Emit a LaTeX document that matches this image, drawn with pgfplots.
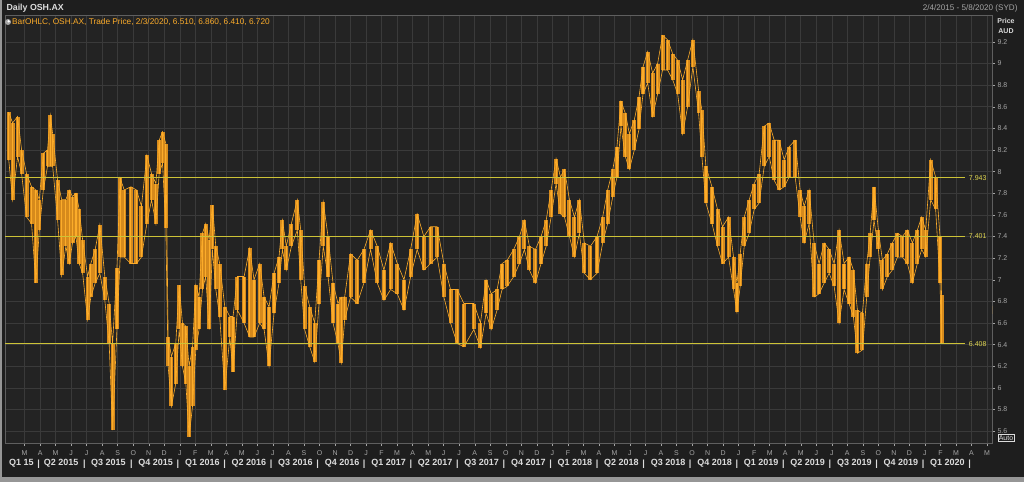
\documentclass[border=0pt]{standalone}
\usepackage{fontspec}
\setmainfont{Liberation Sans}
\usepackage{pgfplots}
\pgfplotsset{compat=1.18}
\usepackage{pgfplotstable}

\definecolor{framegray}{RGB}{150,150,150}
\definecolor{panel}{RGB}{30,30,30}
\definecolor{plotbg}{RGB}{35,35,35}
\definecolor{gridc}{RGB}{58,58,58}
\definecolor{axisc}{RGB}{95,95,95}
\definecolor{barorange}{RGB}{252,172,42}
\definecolor{bandorange}{RGB}{214,138,28}
\definecolor{lvl}{RGB}{205,195,55}
\definecolor{lvltext}{RGB}{225,215,80}
\definecolor{ticktext}{RGB}{165,165,165}
\definecolor{qtext}{RGB}{220,220,220}

% month index: 0 = Jan 2015, 12 = Jan 2016 ...; hi / lo of each bar group
\pgfplotstableread{
m hi lo
0.98 8.55 8.11
1.23 8.45 7.74
1.55 8.51 8.14
1.81 8.20 7.98
2.13 7.98 7.58
2.45 7.86 7.52
2.73 7.83 6.97
2.95 7.74 7.46
3.21 8.17 7.83
3.48 8.20 8.05
3.66 8.52 8.05
3.81 8.35 8.05
4.13 7.92 7.55
4.39 7.74 7.04
4.66 7.74 7.31
4.88 7.83 7.15
5.09 7.77 7.34
5.31 7.80 7.40
5.52 7.65 7.15
5.74 7.37 7.06
6.06 7.03 6.63
6.27 7.15 6.84
6.55 7.28 6.97
6.85 7.51 7.06
7.17 7.03 6.81
7.45 6.78 6.41
7.67 6.41 5.61
7.95 7.11 6.54
8.16 7.94 7.21
8.42 7.83 7.21
8.85 7.86 7.15
9.21 7.83 7.15
9.53 7.68 7.21
9.88 8.15 7.52
10.18 7.98 7.74
10.46 7.89 7.52
10.67 8.29 7.98
10.89 8.37 8.08
11.10 8.26 7.48
11.25 6.47 6.20
11.46 6.29 5.83
11.74 6.41 6.04
11.96 6.95 6.54
12.17 6.60 6.20
12.39 6.57 6.04
12.60 6.20 5.55
12.82 6.38 5.83
13.03 6.95 6.35
13.24 6.84 6.54
13.46 7.43 6.91
13.67 7.52 7.03
13.89 7.37 6.54
14.10 7.69 7.28
14.32 7.31 6.91
14.57 7.15 6.66
14.90 6.75 5.98
15.22 6.66 6.47
15.43 6.66 6.15
15.71 7.03 6.72
16.14 7.03 6.60
16.50 7.29 6.47
16.78 7.00 6.47
17.15 7.15 6.60
17.43 6.84 6.54
17.75 6.75 6.20
18.07 7.06 6.69
18.39 7.21 6.97
18.61 7.55 7.28
18.86 7.31 7.09
19.19 7.52 7.31
19.57 7.74 7.46
19.79 7.46 7.00
20.04 6.94 6.54
20.37 6.75 6.38
20.69 6.60 6.24
20.97 7.18 6.78
21.24 7.72 7.31
21.55 7.40 7.03
21.87 6.97 6.60
22.19 6.78 6.41
22.40 6.84 6.23
22.62 6.84 6.63
23.00 7.24 6.84
23.43 7.18 6.78
23.86 7.28 6.97
24.29 7.46 7.28
24.72 7.31 6.97
25.15 7.09 6.81
25.58 7.34 6.91
26.01 7.15 6.87
26.44 7.00 6.72
26.87 7.28 7.03
27.29 7.61 7.28
27.72 7.40 7.09
28.15 7.49 7.15
28.58 7.49 7.21
29.01 7.15 6.84
29.44 6.91 6.60
29.87 6.91 6.41
30.30 6.78 6.38
30.94 6.78 6.54
31.37 6.60 6.37
31.73 7.00 6.69
32.06 6.87 6.54
32.44 6.91 6.72
32.76 7.15 6.91
33.09 7.18 6.94
33.51 7.28 7.03
33.88 7.40 7.15
34.20 7.55 7.28
34.52 7.31 7.09
34.91 7.28 6.97
35.27 7.40 7.15
35.60 7.55 7.31
35.92 7.83 7.58
36.24 8.12 7.89
36.52 7.95 7.61
36.78 8.02 7.58
37.10 7.74 7.40
37.42 7.58 7.21
37.74 7.74 7.43
38.06 7.34 7.06
38.45 7.31 7.00
38.88 7.40 7.06
39.24 7.58 7.34
39.56 7.83 7.52
39.89 8.02 7.77
40.16 8.23 7.95
40.42 8.65 8.42
40.70 8.54 8.14
40.96 8.35 8.02
41.28 8.48 8.20
41.58 8.69 8.39
41.84 8.97 8.72
42.14 9.11 8.82
42.46 8.91 8.51
42.78 9.00 8.72
43.10 9.26 8.94
43.42 9.22 8.94
43.75 9.09 8.85
44.07 9.03 8.72
44.39 8.85 8.35
44.71 9.03 8.60
45.05 9.22 8.97
45.42 8.75 8.54
45.63 8.57 8.14
45.89 8.05 7.71
46.28 7.86 7.52
46.64 7.65 7.31
46.96 7.49 7.15
47.35 7.58 7.21
47.67 7.21 6.91
47.89 6.97 6.70
48.10 7.24 6.94
48.36 7.58 7.31
48.68 7.74 7.43
49.00 7.89 7.65
49.32 7.98 7.71
49.65 8.42 8.05
49.97 8.45 8.14
50.29 8.29 7.92
50.61 8.29 7.83
50.93 8.11 7.86
51.25 8.23 7.95
51.64 8.29 7.95
51.96 7.83 7.58
52.22 7.68 7.34
52.54 7.83 7.52
52.86 7.34 6.84
53.18 7.15 6.87
53.51 7.34 6.97
53.83 7.28 7.06
54.15 7.15 6.94
54.47 7.46 6.60
54.79 7.15 6.91
55.11 7.21 6.78
55.39 7.09 6.66
55.65 6.72 6.32
55.97 6.69 6.35
56.25 7.15 6.84
56.47 7.43 7.21
56.72 7.86 7.55
57.00 7.46 7.28
57.26 7.18 6.91
57.58 7.24 7.03
57.90 7.34 7.09
58.23 7.43 7.21
58.55 7.40 7.21
58.87 7.46 7.15
59.19 7.34 6.97
59.51 7.46 7.15
59.79 7.58 7.28
60.05 7.46 7.21
60.37 8.11 7.74
60.69 7.95 7.65
60.97 7.40 6.97
61.07 6.86 6.41
}\ohlc

\begin{document}
\begin{tikzpicture}[x=1pt,y=1pt]
\fill[framegray] (0,0) rectangle (1024,482);
\fill[panel] (2,5) rectangle (1024,482);

\begin{axis}[
    at={(5pt,39pt)}, anchor=south west,
    scale only axis, width=987pt, height=428pt,
    xmin=0.74, xmax=64.32, ymin=5.49, ymax=9.449,
    axis background/.style={fill=plotbg},
    axis line style={axisc},
    grid=major,
    major grid style={gridc, line width=0.6pt},
    tick style={ticktext, line width=0.5pt},
    tick align=outside, major tick length=3pt,
    xtick pos=bottom, ytick pos=right, yticklabel pos=right,
    xtick={2,...,64},
    xticklabels={M,A,M,J,J,A,S,O,N,D,
      J,F,M,A,M,J,J,A,S,O,N,D,
      J,F,M,A,M,J,J,A,S,O,N,D,
      J,F,M,A,M,J,J,A,S,O,N,D,
      J,F,M,A,M,J,J,A,S,O,N,D,
      J,F,M,A,M},
    xticklabel style={text=ticktext, font=\fontsize{7}{8}\selectfont, yshift=-1pt},
    ytick={5.6,5.8,6,6.2,6.4,6.6,6.8,7,7.2,7.4,7.6,7.8,8,8.2,8.4,8.6,8.8,9,9.2},
    yticklabel style={text=ticktext, font=\fontsize{7}{8}\selectfont, xshift=-1pt},
    /pgf/number format/assume math mode=true,
    extra x ticks={1.8,2.9,4.35,5.85,7.4,8.88,10.45,11.88,13.45,14.88,16.45,17.88,19.45,20.88,22.45,23.88,25.45,26.88,28.45,29.88,31.45,32.88,34.45,35.88,37.45,38.88,40.45,41.88,43.45,44.88,46.45,47.88,49.45,50.88,52.45,53.88,55.45,56.88,58.45,59.88,61.45,62.88},
    extra x tick labels={Q1 15,|,Q2 2015,|,Q3 2015,|,Q4 2015,|,Q1 2016,|,Q2 2016,|,Q3 2016,|,Q4 2016,|,Q1 2017,|,Q2 2017,|,Q3 2017,|,Q4 2017,|,Q1 2018,|,Q2 2018,|,Q3 2018,|,Q4 2018,|,Q1 2019,|,Q2 2019,|,Q3 2019,|,Q4 2019,|,Q1 2020,|},
    extra x tick style={grid=none, major tick length=0pt,
      xticklabel style={text=qtext, font=\fontsize{9}{10}\selectfont\bfseries, yshift=-12pt}},
]

% price range of each bar group: darker body, edges, then narrow bright bars
\addplot[draw=none, mark=none, forget plot,
    error bars/.cd, y dir=plus, y explicit, error mark=none,
    error bar style={draw=bandorange, line width=4pt}]
    table[x=m, y=lo, y error expr=\thisrow{hi}-\thisrow{lo}] {\ohlc};
\addplot[barorange, line width=0.6pt, forget plot] table[x=m, y=hi] {\ohlc};
\addplot[barorange, line width=0.6pt, forget plot] table[x=m, y=lo] {\ohlc};
\addplot[draw=none, mark=none,
    error bars/.cd, y dir=plus, y explicit, error mark=none,
    error bar style={draw=barorange, line width=1.2pt}]
    table[x=m, y=lo, y error expr=\thisrow{hi}-\thisrow{lo}] {\ohlc};

% support / resistance levels
\addplot[lvl, line width=1pt] coordinates {(0.74,7.943) (62.58,7.943)};
\addplot[lvl, line width=1pt] coordinates {(0.74,7.401) (62.58,7.401)};
\addplot[lvl, line width=1pt] coordinates {(0.74,6.408) (62.58,6.408)};

\node[anchor=east, text=lvltext, font=\fontsize{7}{8}\selectfont, xshift=-2pt] at (axis cs:64.32,7.943) {7.943};
\node[anchor=east, text=lvltext, font=\fontsize{7}{8}\selectfont, xshift=-2pt] at (axis cs:64.32,7.401) {7.401};
\node[anchor=east, text=lvltext, font=\fontsize{7}{8}\selectfont, xshift=-2pt] at (axis cs:64.32,6.408) {6.408};

\node[anchor=west, fill=barorange, text=black, inner sep=1.2pt,
      font=\fontsize{7}{8}\selectfont\bfseries] at (axis cs:64.32,6.72) {6.720};
\end{axis}

% header and legend
\node[anchor=west, text=qtext, font=\fontsize{8.8}{10}\selectfont\bfseries] at (3,474) {Daily OSH.AX};
\node[anchor=east, text=ticktext, font=\fontsize{8.1}{9}\selectfont] at (1021,474) {2/4/2015 - 5/8/2020 (SYD)};
\fill[ticktext] (8,460) circle (3);
\fill[white] (8.7,460.7) circle (1.3);
\node[anchor=west, text=barorange, font=\fontsize{8.3}{9}\selectfont, inner sep=1pt] at (11,460) {BarOHLC, OSH.AX, Trade Price, 2/3/2020, 6.510, 6.860, 6.410, 6.720};
\node[text=qtext, font=\fontsize{7}{8}\selectfont\bfseries] at (1006,461) {Price};
\node[text=qtext, font=\fontsize{7}{8}\selectfont\bfseries] at (1006,451) {AUD};
\node[draw=qtext, text=qtext, inner sep=1pt, font=\fontsize{7}{8}\selectfont] at (1006,44) {Auto};

\pgfresetboundingbox
\path[use as bounding box] (0,0) rectangle (1024,482);
\end{tikzpicture}
\end{document}
